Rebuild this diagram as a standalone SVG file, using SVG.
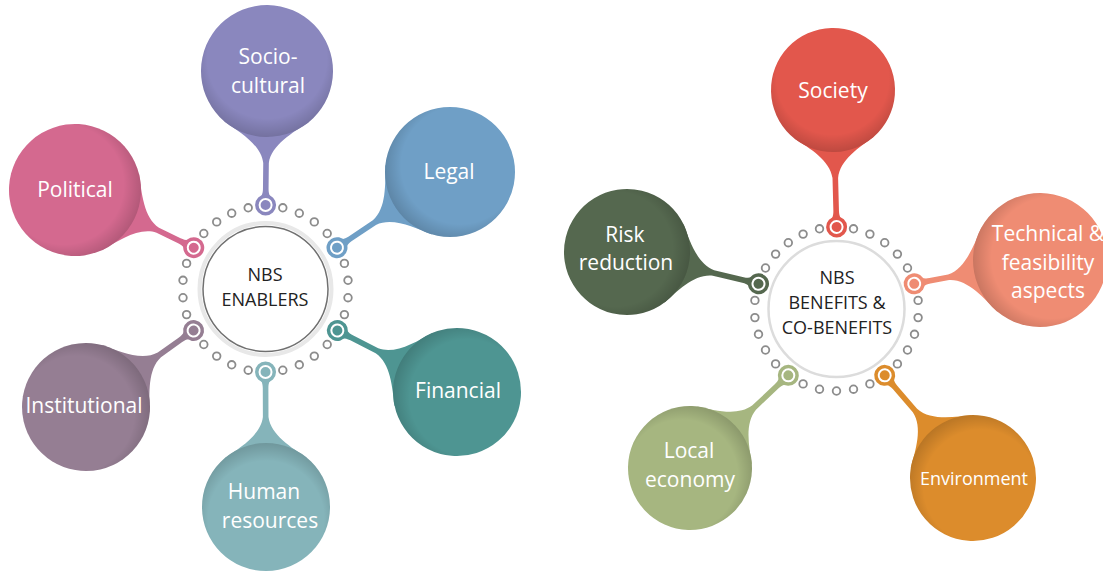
<svg xmlns="http://www.w3.org/2000/svg" width="1103" height="572" viewBox="0 0 1103 572">
<style>
.dot{fill:#fff;stroke:#8c8c8c;stroke-width:1.8}
.lbl{font-family:"Open Sans","Liberation Sans",sans-serif;font-size:21px;fill:#fff;text-anchor:middle}
.hub{font-family:"Open Sans","Liberation Sans",sans-serif;font-size:18px;fill:#222;text-anchor:middle}
.ring{fill:none;stroke:#fff;stroke-width:2}
</style>
<defs>
<radialGradient id="shade" cx="0.42" cy="0.5" r="0.58" fx="0.36" fy="0.5">
<stop offset="0.78" stop-color="#000" stop-opacity="0"/>
<stop offset="1" stop-color="#000" stop-opacity="0.16"/>
</radialGradient>
</defs>
<rect width="1103" height="572" fill="#fff"/>

<g id="hub-enablers">
<circle cx="265.5" cy="289" r="66" fill="none" stroke="#e8e8e8" stroke-width="4"/>
<circle cx="265.5" cy="289" r="62.5" fill="#fff" stroke="#707070" stroke-width="1.5"/>
<g class="dot">
<circle cx="282.8" cy="207.8" r="3.8"/><circle cx="299.3" cy="213.2" r="3.8"/><circle cx="314.3" cy="221.9" r="3.8"/><circle cx="327.2" cy="233.5" r="3.8"/>
<circle cx="344.4" cy="263.4" r="3.8"/><circle cx="348" cy="280.3" r="3.8"/><circle cx="348" cy="297.7" r="3.8"/><circle cx="344.4" cy="314.6" r="3.8"/>
<circle cx="327.2" cy="344.5" r="3.8"/><circle cx="314.3" cy="356.1" r="3.8"/><circle cx="299.3" cy="364.8" r="3.8"/><circle cx="282.8" cy="370.2" r="3.8"/>
<circle cx="248.2" cy="370.2" r="3.8"/><circle cx="231.7" cy="364.8" r="3.8"/><circle cx="216.7" cy="356.1" r="3.8"/><circle cx="203.8" cy="344.5" r="3.8"/>
<circle cx="186.6" cy="314.6" r="3.8"/><circle cx="183" cy="297.7" r="3.8"/><circle cx="183" cy="280.3" r="3.8"/><circle cx="186.6" cy="263.4" r="3.8"/>
<circle cx="203.8" cy="233.5" r="3.8"/><circle cx="216.7" cy="221.9" r="3.8"/><circle cx="231.7" cy="213.2" r="3.8"/><circle cx="248.2" cy="207.8" r="3.8"/>
</g>
<text class="hub" x="265" y="281">NBS</text>
<text class="hub" x="265" y="306">ENABLERS</text>
</g>

<g id="hub-benefits">
<circle cx="836.5" cy="309" r="68" fill="#fff" stroke="#dcdcdc" stroke-width="2.5"/>
<g class="dot">
<circle cx="853.5" cy="228.8" r="3.8"/><circle cx="869.9" cy="234.1" r="3.8"/><circle cx="884.7" cy="242.7" r="3.8"/><circle cx="897.4" cy="254.1" r="3.8"/><circle cx="907.5" cy="268" r="3.8"/>
<circle cx="918.1" cy="300.4" r="3.8"/><circle cx="918.1" cy="317.6" r="3.8"/><circle cx="914.5" cy="334.3" r="3.8"/><circle cx="907.5" cy="350" r="3.8"/><circle cx="897.4" cy="363.9" r="3.8"/>
<circle cx="869.9" cy="383.9" r="3.8"/><circle cx="853.5" cy="389.2" r="3.8"/><circle cx="836.5" cy="391" r="3.8"/><circle cx="819.5" cy="389.2" r="3.8"/><circle cx="803.1" cy="383.9" r="3.8"/>
<circle cx="775.6" cy="363.9" r="3.8"/><circle cx="765.5" cy="350" r="3.8"/><circle cx="758.5" cy="334.3" r="3.8"/><circle cx="754.9" cy="317.6" r="3.8"/><circle cx="754.9" cy="300.4" r="3.8"/>
<circle cx="765.5" cy="268" r="3.8"/><circle cx="775.6" cy="254.1" r="3.8"/><circle cx="788.3" cy="242.7" r="3.8"/><circle cx="803.1" cy="234.1" r="3.8"/><circle cx="819.5" cy="228.8" r="3.8"/>
</g>
<text class="hub" x="837" y="284">NBS</text>
<text class="hub" x="837" y="309">BENEFITS &amp;</text>
<text class="hub" x="837" y="334">CO-BENEFITS</text>
</g>

<g id="connectors">
<g transform="translate(267,71) rotate(90.6)" fill="#8a87be">
<path d="M50.6,-42.4 C61.4,-26.4 74,-5 92,-2.8 L118,-2.8 C124,-2.8 126,-5 130,-7 L130,7 C126,5 124,2.8 118,2.8 L92,2.8 C74,5 61.4,26.4 50.6,42.4 Z"/>
<circle cx="134" cy="0" r="10.5"/><circle class="ring" cx="134" cy="0" r="6"/><circle cx="134" cy="0" r="2.6"/>
</g>
<g transform="translate(75,190) rotate(25.9)" fill="#d4698f">
<path d="M50.6,-42.4 C61.4,-26.4 74,-5 92,-2.8 L116,-2.8 C122,-2.8 124,-5 128,-7 L128,7 C124,5 122,2.8 116,2.8 L92,2.8 C74,5 61.4,26.4 50.6,42.4 Z"/>
<circle cx="132" cy="0" r="10.5"/><circle class="ring" cx="132" cy="0" r="6"/><circle cx="132" cy="0" r="2.6"/>
</g>
<g transform="translate(450,172) rotate(146.2)" fill="#6f9fc6">
<path d="M49.8,-41.8 C60.5,-26 73,-5 91,-2.8 L120,-2.8 C126,-2.8 128,-5 132,-7 L132,7 C128,5 126,2.8 120,2.8 L91,2.8 C73,5 60.5,26 49.8,41.8 Z"/>
<circle cx="136" cy="0" r="10.5"/><circle class="ring" cx="136" cy="0" r="6"/><circle cx="136" cy="0" r="2.6"/>
</g>
<g transform="translate(457,392) rotate(-152.8)" fill="#4e9592">
<path d="M49,-41.2 C59.5,-25.6 72,-5 90,-2.8 L118.5,-2.8 C124.5,-2.8 126.5,-5 130.5,-7 L130.5,7 C126.5,5 124.5,2.8 118.5,2.8 L90,2.8 C72,5 59.5,25.6 49,41.2 Z"/>
<circle cx="134.5" cy="0" r="10.5"/><circle class="ring" cx="134.5" cy="0" r="6"/><circle cx="134.5" cy="0" r="2.6"/>
</g>
<g transform="translate(86,407) rotate(-35.4)" fill="#957e93">
<path d="M49,-41.2 C59.5,-25.6 72,-5 90,-2.8 L116,-2.8 C122,-2.8 124,-5 128,-7 L128,7 C124,5 122,2.8 116,2.8 L90,2.8 C72,5 59.5,25.6 49,41.2 Z"/>
<circle cx="132" cy="0" r="10.5"/><circle class="ring" cx="132" cy="0" r="6"/><circle cx="132" cy="0" r="2.6"/>
</g>
<g transform="translate(266,507) rotate(-90.2)" fill="#85b4ba">
<path d="M49,-41.2 C59.5,-25.6 72,-5 90,-2.8 L119,-2.8 C125,-2.8 127,-5 131,-7 L131,7 C127,5 125,2.8 119,2.8 L90,2.8 C72,5 59.5,25.6 49,41.2 Z"/>
<circle cx="135" cy="0" r="10.5"/><circle class="ring" cx="135" cy="0" r="6"/><circle cx="135" cy="0" r="2.6"/>
</g>
<g transform="translate(833,90) rotate(88.5)" fill="#e2574c">
<path d="M47.5,-39.9 C57.7,-24.8 70,-5 88,-2.8 L121,-2.8 C127,-2.8 129,-5 133,-7 L133,7 C129,5 127,2.8 121,2.8 L88,2.8 C70,5 57.7,24.8 47.5,39.9 Z"/>
<circle cx="137" cy="0" r="10.5"/><circle class="ring" cx="137" cy="0" r="6"/><circle cx="137" cy="0" r="2.6"/>
</g>
<g transform="translate(1040,260) rotate(169.3)" fill="#ef8c73">
<path d="M51.3,-43.1 C62.3,-26.8 75,-5 93,-2.8 L112,-2.8 C118,-2.8 120,-5 124,-7 L124,7 C120,5 118,2.8 112,2.8 L93,2.8 C75,5 62.3,26.8 51.3,43.1 Z"/>
<circle cx="128" cy="0" r="10.5"/><circle class="ring" cx="128" cy="0" r="6"/><circle cx="128" cy="0" r="2.6"/>
</g>
<g transform="translate(627,252) rotate(13.6)" fill="#55684f">
<path d="M48.3,-40.5 C58.6,-25.2 71,-5 89,-2.8 L119.3,-2.8 C125.3,-2.8 127.3,-5 131.3,-7 L131.3,7 C127.3,5 125.3,2.8 119.3,2.8 L89,2.8 C71,5 58.6,25.2 48.3,40.5 Z"/>
<circle cx="135.3" cy="0" r="10.5"/><circle class="ring" cx="135.3" cy="0" r="6"/><circle cx="135.3" cy="0" r="2.6"/>
</g>
<g transform="translate(690,468) rotate(-43.3)" fill="#a6b680">
<path d="M47.5,-39.9 C57.7,-24.8 70,-5 88,-2.8 L119.1,-2.8 C125.1,-2.8 127.1,-5 131.1,-7 L131.1,7 C127.1,5 125.1,2.8 119.1,2.8 L88,2.8 C70,5 57.7,24.8 47.5,39.9 Z"/>
<circle cx="135.1" cy="0" r="10.5"/><circle class="ring" cx="135.1" cy="0" r="6"/><circle cx="135.1" cy="0" r="2.6"/>
</g>
<g transform="translate(973,478) rotate(-130.7)" fill="#dc8c2c">
<path d="M48.3,-40.5 C58.6,-25.2 71,-5 89,-2.8 L119.4,-2.8 C125.4,-2.8 127.4,-5 131.4,-7 L131.4,7 C127.4,5 125.4,2.8 119.4,2.8 L89,2.8 C71,5 58.6,25.2 48.3,40.5 Z"/>
<circle cx="135.4" cy="0" r="10.5"/><circle class="ring" cx="135.4" cy="0" r="6"/><circle cx="135.4" cy="0" r="2.6"/>
</g>
</g>

<g id="socio-cultural">
<g transform="translate(267,71) rotate(90.6)"><circle r="66" fill="#8a87be"/><circle r="66" fill="url(#shade)"/></g>
<text class="lbl" x="268" y="64">Socio-</text>
<text class="lbl" x="268" y="93">cultural</text>
</g>
<g id="political">
<g transform="translate(75,190) rotate(25.9)"><circle r="66" fill="#d4698f"/><circle r="66" fill="url(#shade)"/></g>
<text class="lbl" x="75" y="197">Political</text>
</g>
<g id="legal">
<g transform="translate(450,172) rotate(146.2)"><circle r="65" fill="#6f9fc6"/><circle r="65" fill="url(#shade)"/></g>
<text class="lbl" x="449" y="179">Legal</text>
</g>
<g id="financial">
<g transform="translate(457,392) rotate(-152.8)"><circle r="64" fill="#4e9592"/><circle r="64" fill="url(#shade)"/></g>
<text class="lbl" x="458" y="398">Financial</text>
</g>
<g id="institutional">
<g transform="translate(86,407) rotate(-35.4)"><circle r="64" fill="#957e93"/><circle r="64" fill="url(#shade)"/></g>
<text class="lbl" x="84" y="413">Institutional</text>
</g>
<g id="human-resources">
<g transform="translate(266,507) rotate(-90.2)"><circle r="64" fill="#85b4ba"/><circle r="64" fill="url(#shade)"/></g>
<text class="lbl" x="264" y="499">Human</text>
<text class="lbl" x="270" y="528">resources</text>
</g>
<g id="society">
<g transform="translate(833,90) rotate(88.5)"><circle r="62" fill="#e2574c"/><circle r="62" fill="url(#shade)"/></g>
<text class="lbl" x="833" y="98">Society</text>
</g>
<g id="technical">
<g transform="translate(1040,260) rotate(169.3)"><circle r="67" fill="#ef8c73"/><circle r="67" fill="url(#shade)"/></g>
<text class="lbl" x="1048" y="241">Technical &amp;</text>
<text class="lbl" x="1048" y="270">feasibility</text>
<text class="lbl" x="1048" y="298">aspects</text>
</g>
<g id="risk-reduction">
<g transform="translate(627,252) rotate(13.6)"><circle r="63" fill="#55684f"/><circle r="63" fill="url(#shade)"/></g>
<text class="lbl" x="625" y="242">Risk</text>
<text class="lbl" x="626" y="270">reduction</text>
</g>
<g id="local-economy">
<g transform="translate(690,468) rotate(-43.3)"><circle r="62" fill="#a6b680"/><circle r="62" fill="url(#shade)"/></g>
<text class="lbl" x="689" y="458">Local</text>
<text class="lbl" x="690" y="487">economy</text>
</g>
<g id="environment">
<g transform="translate(973,478) rotate(-130.7)"><circle r="63" fill="#dc8c2c"/><circle r="63" fill="url(#shade)"/></g>
<text class="lbl" x="974" y="485" style="font-size:18px">Environment</text>
</g>
</svg>
